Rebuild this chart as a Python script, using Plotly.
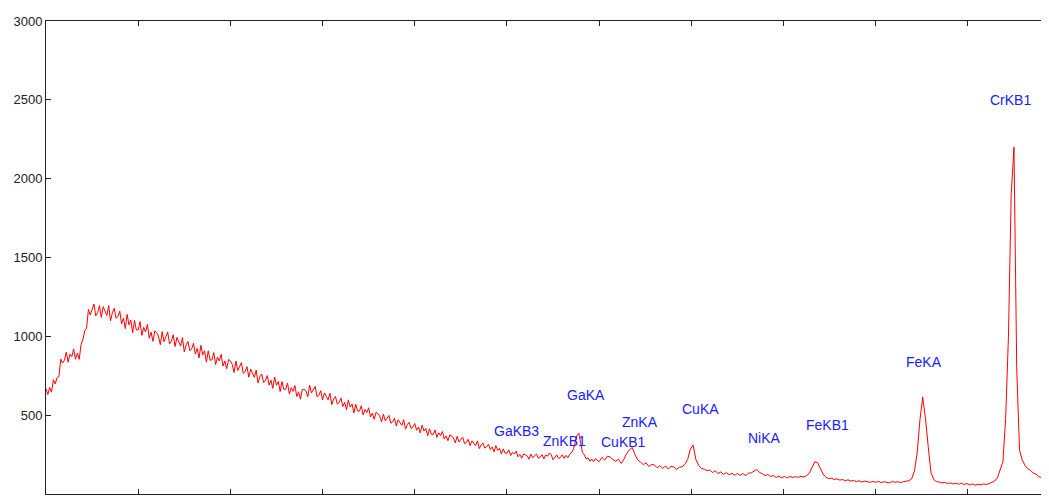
import plotly.graph_objects as go

# channel axis (ticks every 100 channels): finer readings in the noisy low-channel region
channels = list(range(0, 600, 2)) + list(range(600, 1090, 3))

counts = [
    # ch 0 - 598 (step 2)
    668, 631, 675, 646, 725, 698, 738, 745, 855, 831,
    848, 900, 836, 887, 871, 919, 855, 894, 854, 946,
    980, 1035, 1050, 1170, 1135, 1175, 1205, 1130, 1150, 1195,
    1120, 1188, 1165, 1132, 1195, 1097, 1150, 1177, 1115, 1125,
    1160, 1080, 1115, 1049, 1139, 1073, 1103, 1022, 1101, 1040,
    1041, 1093, 1006, 1057, 1028, 1076, 988, 1026, 968, 1034,
    1024, 1002, 947, 1030, 966, 1001, 1027, 952, 969, 1010,
    935, 993, 970, 938, 992, 901, 946, 967, 908, 920,
    956, 887, 923, 863, 943, 883, 909, 836, 908, 849,
    850, 897, 821, 868, 844, 886, 811, 844, 794, 853,
    844, 822, 771, 843, 783, 812, 833, 765, 777, 808,
    741, 792, 770, 740, 786, 704, 743, 761, 707, 719,
    751, 691, 722, 670, 742, 690, 714, 650, 713, 664,
    664, 704, 635, 675, 651, 688, 618, 648, 601, 663,
    664, 654, 617, 690, 641, 666, 682, 617, 626, 655,
    597, 641, 623, 597, 639, 567, 602, 618, 571, 580,
    608, 555, 581, 535, 597, 551, 571, 514, 569, 526,
    525, 560, 501, 536, 516, 547, 489, 513, 474, 518,
    510, 494, 457, 507, 464, 484, 498, 449, 457, 481,
    432, 471, 456, 435, 471, 411, 440, 455, 416, 425,
    447, 404, 425, 388, 437, 399, 416, 370, 414, 379,
    378, 406, 359, 387, 371, 396, 349, 369, 338, 374,
    368, 355, 324, 366, 330, 348, 361, 320, 327, 347,
    307, 337, 325, 307, 337, 288, 311, 323, 291, 299,
    316, 282, 298, 268, 307, 277, 289, 253, 286, 259,
    259, 280, 244, 265, 253, 272, 236, 251, 227, 254,
    249, 242, 221, 253, 230, 243, 254, 227, 233, 250,
    223, 247, 240, 259, 251, 217, 237, 248, 225, 232,
    248, 226, 245, 230, 252, 262, 282, 330, 372, 385,
    318, 262, 248, 222, 230, 208, 222, 206, 224, 212,
    # ch 600 - 1089 (step 3)
    205, 232, 215, 240, 235, 218, 208, 220, 194, 222,
    258, 282, 295, 248, 215, 202, 186, 198, 174, 188,
    184, 166, 180, 162, 178, 158, 175, 172, 156, 170,
    172, 188, 218, 285, 310, 218, 182, 162, 158, 148,
    152, 136, 148, 130, 140, 124, 136, 122, 132, 118,
    130, 118, 130, 116, 132, 134, 148, 156, 136, 130,
    116, 124, 110, 118, 105, 114, 102, 112, 101, 112,
    104, 110, 106, 112, 108, 116, 132, 172, 205, 198,
    162, 126, 106, 98, 100, 92, 96, 88, 92, 84,
    90, 82, 86, 78, 84, 76, 82, 80, 74, 80,
    74, 80, 72, 78, 76, 70, 80, 74, 78, 72,
    78, 82, 84, 96, 145, 260, 470, 615, 480, 300,
    135, 92, 78, 76, 70, 74, 66, 70, 64, 68,
    62, 68, 60, 66, 58, 64, 56, 62, 58, 64,
    60, 66, 72, 82, 102, 148, 205, 480, 1000, 1900,
    2200, 800, 280, 215, 182, 160, 150, 132, 126, 110,
    104, 94, 90, 86,
]

peak_labels = ["GaKB3", "ZnKB1", "GaKA", "CuKB1", "ZnKA", "CuKA", "NiKA", "FeKB1", "FeKA", "CrKB1"]
label_x = [484, 537, 563, 600, 623, 688, 759, 822, 931, 1022]
label_y = [400, 336, 628, 330, 457, 539, 355, 438, 837, 2498]

y_ticks = [0, 500, 1000, 1500, 2000, 2500, 3000]

fig = go.Figure()
fig.add_trace(go.Scatter(
    x=channels, y=counts, mode="lines",
    line=dict(color="#ff0000", width=1),
    hoverinfo="skip", showlegend=False,
))

for name, lx, ly in zip(peak_labels, label_x, label_y):
    fig.add_annotation(
        x=lx, y=ly, text=name, showarrow=False,
        xanchor="left", yanchor="middle",
        font=dict(family="Liberation Sans, Arial, sans-serif", size=14, color="#2020ff"),
    )

# page body has an 8px margin, so the figure is sized to end at the window edge
fig.update_layout(
    width=1041, height=492,
    margin=dict(l=38, r=0, t=13, b=6, autoexpand=False),
    paper_bgcolor="white", plot_bgcolor="white",
    showlegend=False,
    font=dict(family="Liberation Sans, Arial, sans-serif", size=13, color="#222222"),
)
fig.update_xaxes(
    range=[0, 1088], tick0=0, dtick=100,
    showticklabels=False, ticks="inside", ticklen=5, tickcolor="#222222",
    showline=True, linecolor="#222222", linewidth=1, mirror="ticks",
    showgrid=False, zeroline=False, automargin=False,
)
fig.update_yaxes(
    range=[0, 3000], tickvals=y_ticks, ticktext=[str(v) for v in y_ticks],
    ticks="inside", ticklen=5, tickcolor="#222222",
    showline=True, linecolor="#222222", linewidth=1, mirror=False,
    showgrid=False, zeroline=False, automargin=False,
)

fig.write_html("out.html")
